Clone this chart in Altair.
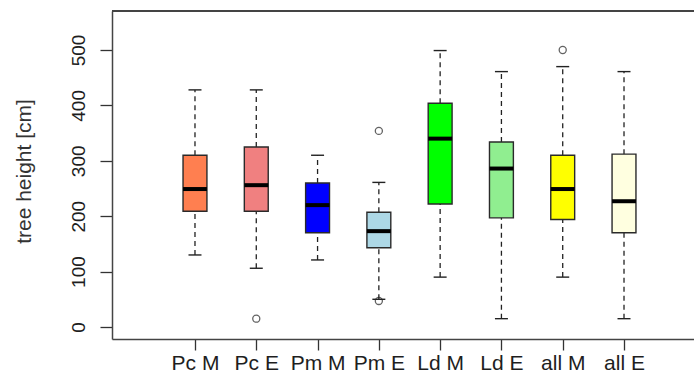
import altair as alt
import pandas as pd

categories = ["Pc M", "Pc E", "Pm M", "Pm E", "Ld M", "Ld E", "all M", "all E"]
colors = ["#FF7F50", "#F08080", "#0000FF", "#ADD8E6", "#00FF00", "#90EE90", "#FFFF00", "#FFFFE0"]
whisker_low = [130, 106, 121, 50, 90, 15, 90, 15]
q1 = [209, 209, 170, 143, 222, 197, 194, 170]
median = [249, 256, 220, 173, 340, 286, 249, 227]
q3 = [310, 325, 260, 207, 404, 334, 310, 312]
whisker_high = [428, 428, 310, 261, 499, 461, 470, 461]
outlier_cat = ["Pc E", "Pm E", "Pm E", "all M"]
outlier_val = [15, 354, 47, 500]
y_ticks = [0, 100, 200, 300, 400, 500]

df = pd.DataFrame({
    "cat": categories,
    "pos": list(range(1, len(categories) + 1)),
    "low": whisker_low, "q1": q1, "med": median, "q3": q3, "high": whisker_high,
})
out = pd.DataFrame({"cat": outlier_cat, "val": outlier_val})
out["pos"] = [categories.index(c) + 1 for c in outlier_cat]

W, H = 582, 328
xs = alt.Scale(domain=[-0.354, 9.142], nice=False, zero=False)
ys = alt.Scale(domain=[-21.7, 570.4], nice=False, zero=False)
FONT = "Liberation Sans"
INK = "#1e1e1e"
label_js = "[" + ",".join("'" + c + "'" for c in categories) + "]"

xaxis = alt.Axis(values=list(range(1, len(categories) + 1)), labelExpr=label_js + "[datum.value-1]",
                 title=None, grid=False, tickSize=11, tickColor="#333", domainColor="#444",
                 domainWidth=1.5, tickWidth=1.3, labelFont=FONT, labelFontSize=21, labelColor=INK,
                 labelPadding=2, labelBaseline="top", labelAlign="center", labelAngle=0)
yaxis = alt.Axis(values=y_ticks, title="tree height [cm]", grid=False, tickSize=12, tickColor="#333",
                 domainColor="#444", domainWidth=1.5, tickWidth=1.3, labelFont=FONT, labelFontSize=19,
                 labelColor=INK, labelAngle=270, labelAlign="center", labelBaseline="alphabetic",
                 labelPadding=16, titleFont=FONT, titleFontSize=21, titleFontWeight="normal",
                 titleColor="#333", titleAngle=270, titleX=-88, titleY=160, titleAlign="center",
                 titleBaseline="middle")

base = alt.Chart(df).transform_calculate(
    x0="datum.pos - 0.195", x1="datum.pos + 0.195", c0="datum.pos - 0.106", c1="datum.pos + 0.106"
)

whisk_up = base.mark_rule(color="#222", strokeWidth=1.3, strokeDash=[5, 4]).encode(
    x=alt.X("pos:Q", scale=xs, axis=xaxis), y=alt.Y("q3:Q", scale=ys, axis=yaxis), y2="high:Q")
whisk_dn = base.mark_rule(color="#222", strokeWidth=1.3, strokeDash=[5, 4]).encode(
    x=alt.X("pos:Q", scale=xs), y=alt.Y("low:Q", scale=ys), y2="q1:Q")
cap_hi = base.mark_rule(color="#222", strokeWidth=1.4).encode(
    x=alt.X("c0:Q", scale=xs), x2="c1:Q", y=alt.Y("high:Q", scale=ys))
cap_lo = base.mark_rule(color="#222", strokeWidth=1.4).encode(
    x=alt.X("c0:Q", scale=xs), x2="c1:Q", y=alt.Y("low:Q", scale=ys))
boxes = base.mark_rect(stroke="#2a2a2a", strokeWidth=1.4).encode(
    x=alt.X("x0:Q", scale=xs), x2="x1:Q", y=alt.Y("q1:Q", scale=ys), y2="q3:Q",
    fill=alt.Fill("cat:N", scale=alt.Scale(domain=categories, range=colors), legend=None))
meds = base.mark_rule(color="#000", strokeWidth=4).encode(
    x=alt.X("x0:Q", scale=xs), x2="x1:Q", y=alt.Y("med:Q", scale=ys))
outs = alt.Chart(out).mark_point(shape="circle", filled=False, color="#222", size=50, strokeWidth=1.3).encode(
    x=alt.X("pos:Q", scale=xs), y=alt.Y("val:Q", scale=ys))
top_border = alt.Chart(df).mark_rule(color="#444", strokeWidth=1.5).encode(
    x=alt.value(0), x2=alt.value(W), y=alt.value(0))

chart = alt.layer(whisk_up, whisk_dn, cap_hi, cap_lo, boxes, meds, outs, top_border).properties(
    width=W, height=H, autosize=alt.AutoSizeParams(type="none"),
    padding={"left": 112, "top": 11, "right": 0, "bottom": 37}, background="white"
).configure_view(stroke=None)

chart.save("out.html", embed_options={"renderer": "svg", "actions": False})
